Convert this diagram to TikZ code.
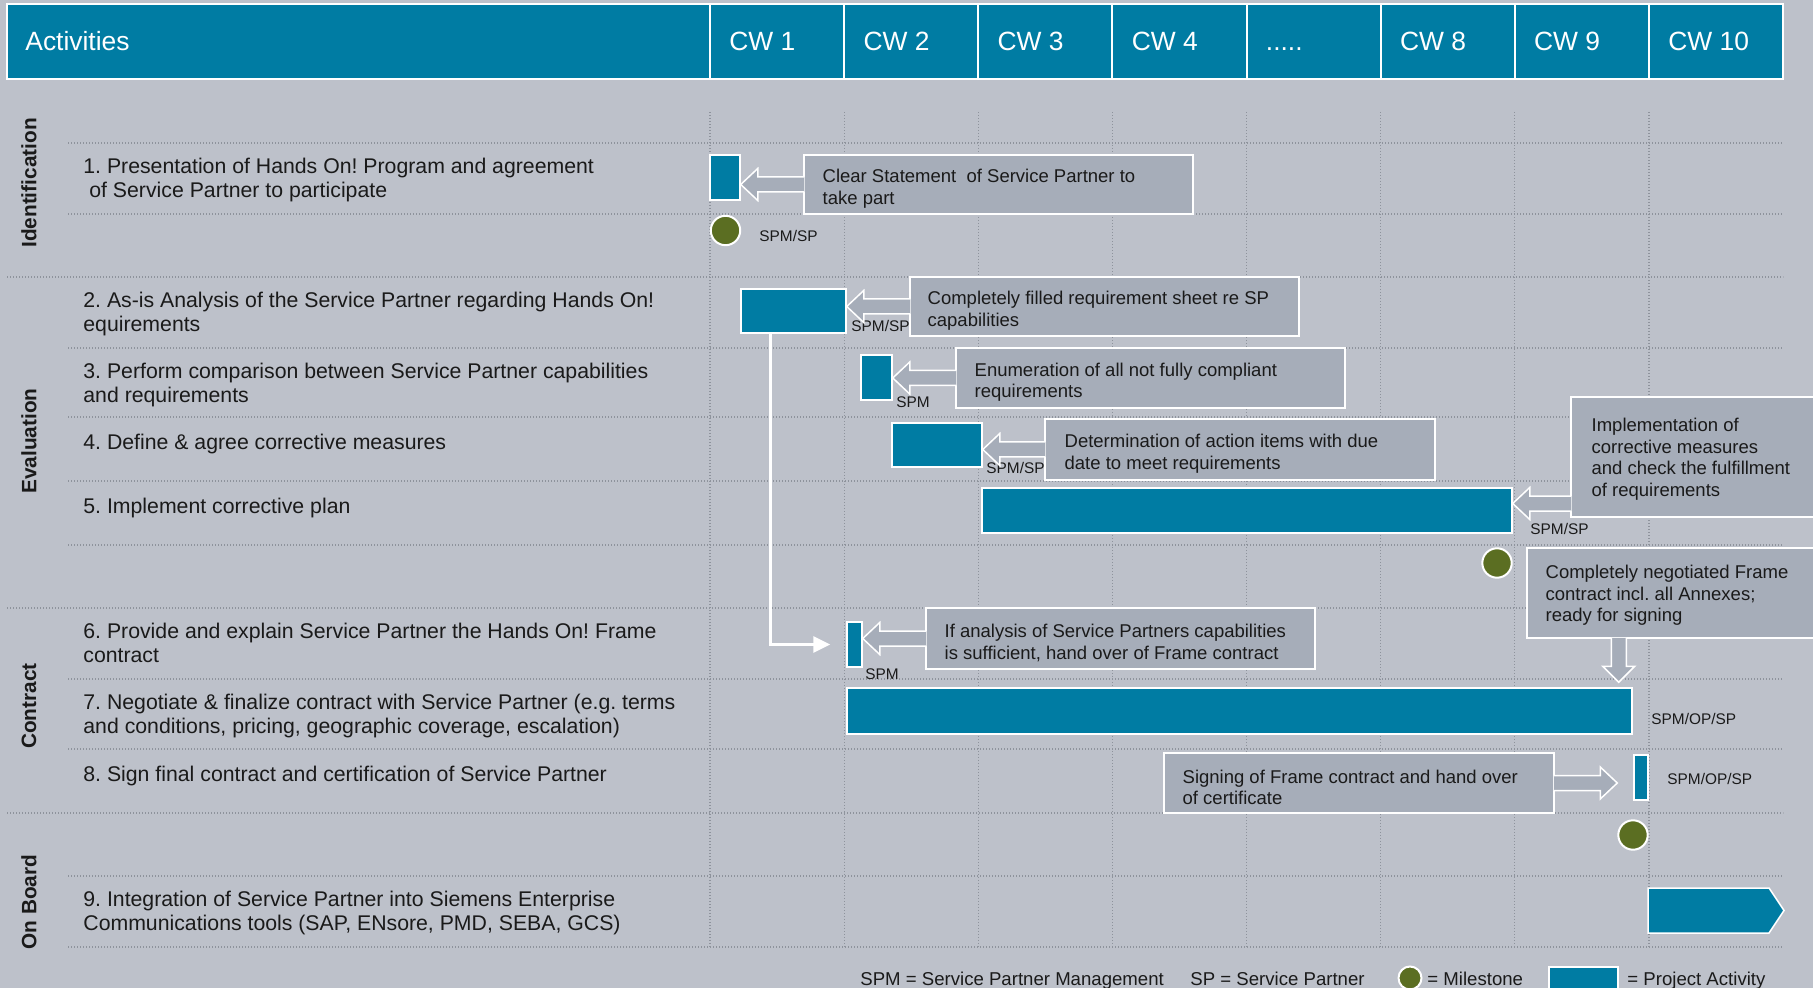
\documentclass[tikz,border=0pt]{standalone}
\usepackage{fontspec}
\setmainfont{Liberation Sans}
\usetikzlibrary{positioning, fit, arrows.meta}

\definecolor{bgray}{HTML}{BDC1CA}
\definecolor{sblue}{HTML}{007CA3}
\definecolor{cgray}{HTML}{A6ADB9}
\definecolor{mgreen}{HTML}{5B6E22}
\definecolor{gline}{HTML}{8E939C}
\definecolor{ink}{HTML}{1A1A1A}

\frenchspacing
\newcommand{\fivedots}{.....}
% gray pointer from a callout box to its bar: tip, root on the box, 1 = left / -1 = right
\newcommand{\callarrow}[3]{%
  \path[pointer] ([shift={(#3*0.5pt,3.75pt)}]#2) -- ([shift={(#3*8.5pt,3.75pt)}]#1)
    -- ([shift={(#3*8.5pt,8pt)}]#1) -- (#1) -- ([shift={(#3*8.5pt,-8pt)}]#1)
    -- ([shift={(#3*8.5pt,-3.75pt)}]#1) -- ([shift={(#3*0.5pt,-3.75pt)}]#2);}

\tikzset{
  rowline/.style={draw=gline, line width=0.6pt, dash pattern=on 0.6pt off 0.9pt},
  hdrcell/.style={fill=sblue, draw=white, line width=1pt},
  hdrtext/.style={anchor=base west, inner sep=0pt, text=white, font=\fontsize{13.2}{15}\selectfont},
  sect/.style={rotate=90, inner sep=0pt, text=ink, font=\bfseries\fontsize{10.4}{12}\selectfont},
  act/.style={anchor=north west, inner sep=0pt, align=left, text=ink,
    font=\fontsize{10.63}{12.2}\selectfont, execute at begin node=\strut},
  bar/.style={fill=sblue, draw=white, line width=0.75pt, inner sep=0pt},
  mile/.style={circle, fill=mgreen, draw=white, line width=1pt, inner sep=0pt, minimum size=14.7pt},
  role/.style={anchor=west, inner sep=0pt, text=ink, font=\fontsize{7.7}{9}\selectfont},
  callbox/.style={fill=cgray, draw=white, line width=0.75pt, inner sep=0pt},
  calltext/.style={anchor=west, inner sep=0pt, align=left, text=ink, font=\fontsize{9.25}{10.75}\selectfont},
  pointer/.style={fill=cgray, draw=white, line width=0.75pt},
  flowarrow/.style={draw=white, line width=1.5pt, -{Triangle[length=8.5pt, width=8pt]}},
  legend/.style={anchor=base west, inner sep=0pt, text=ink, font=\fontsize{9.3}{11}\selectfont}
}

\begin{document}
\begin{tikzpicture}[x=0.5pt,y=-0.5pt]
\useasboundingbox (0,0) rectangle (1813,988);
\fill[bgray] (0,0) rectangle (1813,988);

% grid
\foreach \x in {710,844.1,978.25,1112.4,1246.5,1380.6,1514.75,1648.9}
  \draw[rowline] (\x,112) -- (\x,947);
\foreach \y in {143,214,348,417,481,545,679,749,876,947}
  \draw[rowline] (68,\y) -- (1783,\y);
\foreach \y in {277,608,813}
  \draw[rowline] (7,\y) -- (1783,\y);

% header
\draw[hdrcell] (7,4) rectangle (1783,79);
\foreach \x in {710,844.1,978.25,1112.4,1246.5,1380.6,1514.75,1648.9}
  \draw[white, line width=1pt] (\x,4) -- (\x,79);
\node[hdrtext] (hact) at (25,51) {Activities};
\foreach \lab [count=\i from 0] in {CW 1,CW 2,CW 3,CW 4,\fivedots,CW 8,CW 9,CW 10}
  \node[hdrtext] (hcw\i) at (729+134.125*\i,51) {\lab};

% phases
\node[sect] (sid) at (29,183) {Identification};
\node[sect] (sev) at (29,441) {Evaluation};
\node[sect] (sco) at (29,706) {Contract};
\node[sect] (sob) at (29,902) {On Board};

% activities
\node[act] (a1) at (83,157.6) {1. Presentation of Hands On! Program and agreement\\\hspace*{0.28em}of Service Partner to participate};
\node[act] (a2) at (83,291.6) {2. As-is Analysis of the Service Partner regarding Hands On!\\equirements};
\node[act] (a3) at (83,362.6) {3. Perform comparison between Service Partner capabilities\\and requirements};
\node[act] (a4) at (83,431.6) {4. Define \& agree corrective measures};
\node[act] (a5) at (83,495.6) {5. Implement corrective plan};
\node[act] (a6) at (83,622.6) {6. Provide and explain Service Partner the Hands On! Frame\\contract};
\node[act] (a7) at (83,693.6) {7. Negotiate \& finalize contract with Service Partner (e.g. terms\\and conditions, pricing, geographic coverage, escalation)};
\node[act] (a8) at (83,763.6) {8. Sign final contract and certification of Service Partner};
\node[act] (a9) at (83,890.6) {9. Integration of Service Partner into Siemens Enterprise\\Communications tools (SAP, ENsore, PMD, SEBA, GCS)};

% bars
\node[bar, fit={(710,155) (740,200)}] (b1) {};
\node[bar, fit={(741,289) (846,333)}] (b2) {};
\node[bar, fit={(861,355) (892,400)}] (b3) {};
\node[bar, fit={(892,423) (982,467)}] (b4) {};
\node[bar, fit={(982,488) (1512,533)}] (b5) {};
\node[bar, fit={(847,622) (862,667)}] (b6) {};
\node[bar, fit={(847,688) (1632,734)}] (b7) {};
\node[bar, fit={(1634,755) (1648,800)}] (b8) {};
\draw[bar] (1648,888) -- (1769,888) -- (1784,910.5) -- (1769,933) -- (1648,933) -- cycle;

% milestones
\node[mile] (m1) at (725.5,230.5) {};
\node[mile] (m2) at (1497,563) {};
\node[mile] (m3) at (1633,835) {};

% roles
\node[role] (l1) at (759,236) {SPM/SP};
\node[role] (l2) at (851,326) {SPM/SP};
\node[role] (l3) at (896,402) {SPM};
\node[role] (l4) at (986,468) {SPM/SP};
\node[role] (l5) at (1530,529) {SPM/SP};
\node[role] (l6) at (865,674) {SPM};
\node[role] (l7) at (1651,719) {SPM/OP/SP};
\node[role] (l8) at (1667,779) {SPM/OP/SP};

% callouts
\node[callbox, fit={(804,155) (1193,214)}] (c1) {};
\node[callbox, fit={(910,277) (1299,336)}] (c2) {};
\node[callbox, fit={(956,348) (1345,408)}] (c3) {};
\node[callbox, fit={(1045,419) (1435,480)}] (c4) {};
\node[callbox, fit={(1571,397) (1830,517)}] (c5) {};
\node[callbox, fit={(1527,548) (1830,638)}] (c6) {};
\node[callbox, fit={(926,608) (1315,669)}] (c7) {};
\node[callbox, fit={(1164,753) (1554,813)}] (c8) {};

\coordinate (t1) at (b1.east |- c1.west);
\coordinate (t2) at (b2.east |- c2.west);
\coordinate (t3) at (b3.east |- c3.west);
\coordinate (t4) at (b4.east |- c4.west);
\coordinate (t5) at ([yshift=3.5pt]b5.east);
\coordinate (r5) at (c5.west |- t5);
\coordinate (t6) at ([xshift=-7pt,yshift=2.5pt]b7.north east);
\coordinate (r6) at (t6 |- c6.south);
\coordinate (t7) at (b6.east |- c7.west);
\coordinate (t8) at ([xshift=-8pt]b8.west |- c8.east);

\callarrow{t1}{c1.west}{1}
\callarrow{t2}{c2.west}{1}
\callarrow{t3}{c3.west}{1}
\callarrow{t4}{c4.west}{1}
\callarrow{t5}{r5}{1}
\callarrow{t7}{c7.west}{1}
\callarrow{t8}{c8.east}{-1}
\path[pointer] ([shift={(3.75pt,0.5pt)}]r6) -- ([shift={(3.75pt,8pt)}]t6)
  -- ([shift={(8pt,8pt)}]t6) -- (t6) -- ([shift={(-8pt,8pt)}]t6)
  -- ([shift={(-3.75pt,8pt)}]t6) -- ([shift={(-3.75pt,0.5pt)}]r6);

\node[calltext] (ct1) at ([xshift=9.5pt,yshift=-2.2pt]c1.west) {Clear Statement\ \ of Service Partner to\\take part};
\node[calltext] (ct2) at ([xshift=9pt,yshift=-2.2pt]c2.west) {Completely filled requirement sheet re SP\\capabilities};
\node[calltext] (ct3) at ([xshift=9.5pt,yshift=-2.2pt]c3.west) {Enumeration of all not fully compliant\\requirements};
\node[calltext] (ct4) at ([xshift=10pt,yshift=-2.2pt]c4.west) {Determination of action items with due\\date to meet requirements};
\node[calltext] (ct5) at ([xshift=10.5pt,yshift=-1.2pt]c5.west) {Implementation of\\corrective measures\\and check the fulfillment\\of requirements};
\node[calltext] (ct6) at ([xshift=9.5pt,yshift=-1.2pt]c6.west) {Completely negotiated Frame\\contract incl. all Annexes;\\ready for signing};
\node[calltext] (ct7) at ([xshift=9.5pt,yshift=-2.2pt]c7.west) {If analysis of Service Partners capabilities\\is sufficient, hand over of Frame contract};
\node[calltext] (ct8) at ([xshift=9.5pt,yshift=-2.2pt]c8.west) {Signing of Frame contract and hand over\\of certificate};

% hand over when analysis is sufficient
\draw[flowarrow] ([xshift=15pt]b2.south west) |- ([xshift=-8pt]b6.west);

% legend
\node[legend] (k1) at (860,985.5) {SPM = Service Partner Management};
\node[legend] (k2) at (1190,985.5) {SP = Service Partner};
\node[mile, minimum size=11.5pt] (lm) at (1410,978) {};
\node[legend] (k3) at (1427,985.5) {= Milestone};
\node[bar, fit={(1549,967) (1618,1000)}] (lb) {};
\node[legend] (k4) at (1627,985.5) {= Project Activity};
\end{tikzpicture}
\end{document}
